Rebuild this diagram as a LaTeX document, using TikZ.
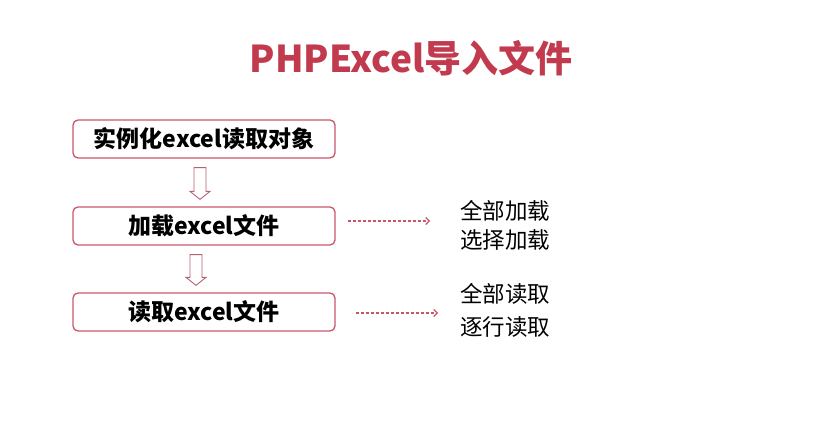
\documentclass[tikz,border=0pt]{standalone}
\usepackage{fontspec}
\newfontfamily\cjk{Noto Sans CJK SC}
\usetikzlibrary{calc,arrows.meta}
\definecolor{brd}{HTML}{C8566A}
\definecolor{ttl}{HTML}{C23A4E}
\begin{document}
\begin{tikzpicture}[x=1pt,y=-1pt,
  box/.style={draw=brd,line width=1.3pt,rounded corners=5pt,minimum width=262pt,minimum height=38pt,font=\cjk\bfseries\fontsize{23}{26}\selectfont,inner sep=0pt},
  side/.style={font=\cjk\fontsize{22.5}{26}\selectfont,anchor=west,inner sep=0pt},
  dasharr/.style={densely dashed,draw=brd,line width=1.1pt,-{Straight Barb[length=3.5pt]}},
  hollow/.style={draw=brd!70!gray,line width=0.9pt,fill=white}]
\useasboundingbox (0,0) rectangle (821,435);
\node[font=\cjk\bfseries\fontsize{37}{40}\selectfont,text=ttl] (t) at (411,58) {PHPExcel导入文件};
\node[box] (b1) at (204,139) {实例化excel读取对象};
\node[box] (b2) at (204,226) {加载excel文件};
\node[box] (b3) at (204,312) {读取excel文件};
\node[side] (r1) at (460,211) {全部加载};
\node[side] (r2) at (460,240) {选择加载};
\node[side] (r3) at (460,294) {全部读取};
\node[side] (r4) at (460,327) {逐行读取};
\coordinate (d1) at (430,221);
\coordinate (d2) at (438,313);
\draw[dasharr] ($(b2.east)+(12,-5)$) -- (d1);
\draw[dasharr] ($(b3.east)+(20,1)$) -- (d2);
\foreach \a/\b/\x in {b1/b2/200,b2/b3/196}{
  \path (\a.south) ++(0,9) coordinate (top) (\b.north) ++(0,-7) coordinate (bot);
  \draw[hollow] (\x-6,0 |- top) -- (\x+6,0 |- top) -- ($(\x+6,0 |- bot)+(0,-8)$) -- ($(\x+10,0 |- bot)+(0,-8)$) -- (\x,0 |- bot) -- ($(\x-10,0 |- bot)+(0,-8)$) -- ($(\x-6,0 |- bot)+(0,-8)$) -- cycle;
}
\end{tikzpicture}
\end{document}
